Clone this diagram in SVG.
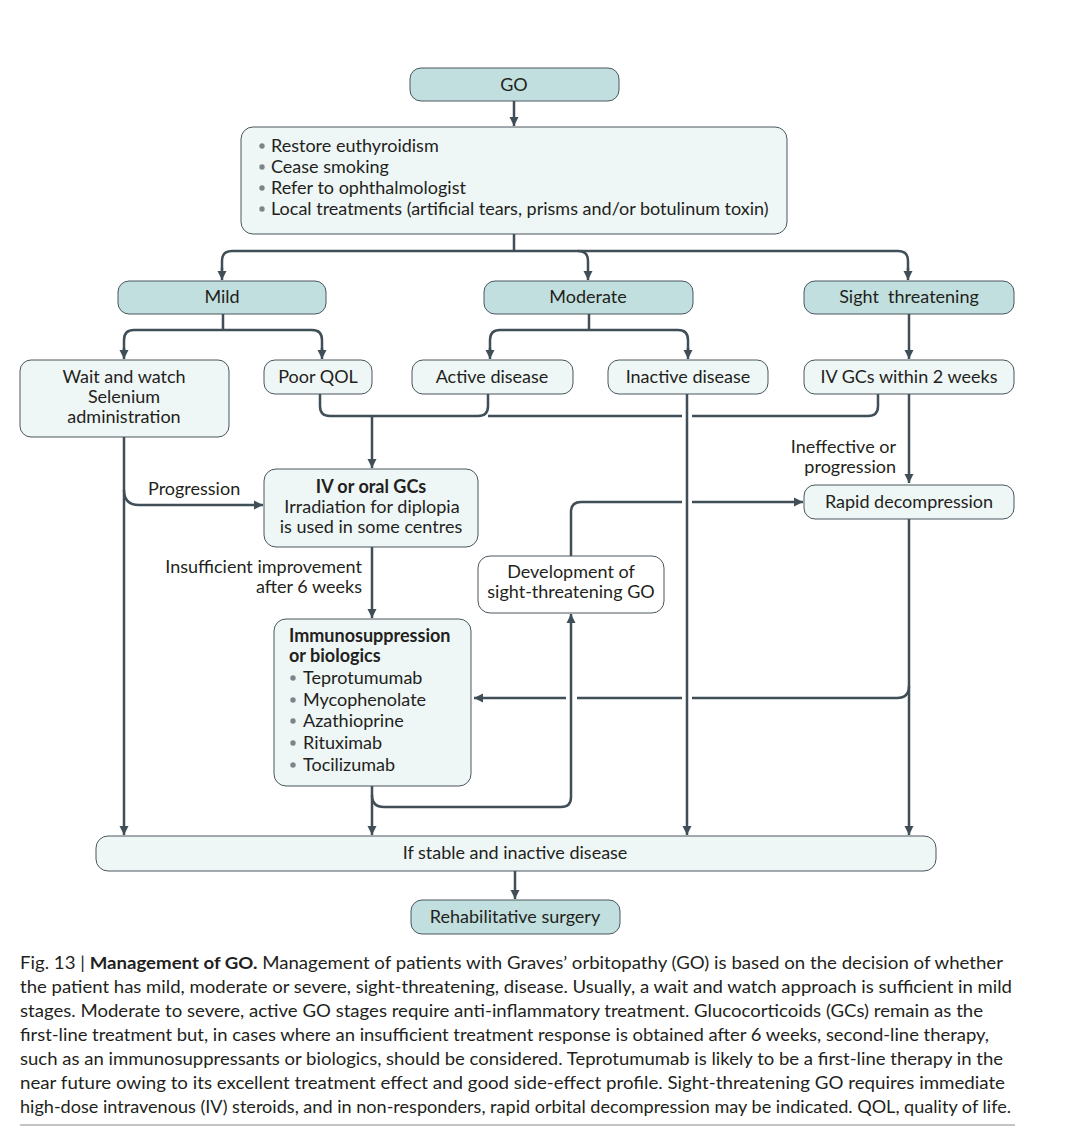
<svg xmlns="http://www.w3.org/2000/svg" width="1080" height="1136" viewBox="0 0 1080 1136">
<style>
.t{font-family:Lato,"Open Sans","Liberation Sans",sans-serif;font-size:18px;fill:#231f20}
.c{text-anchor:middle}
.r{text-anchor:end}
.b{font-weight:bold}
.teal{fill:#c1dfde;stroke:#4a565c;stroke-width:1}
.lite{fill:#eef6f6;stroke:#4a565c;stroke-width:1}
.white{fill:#ffffff;stroke:#4a565c;stroke-width:1}
.ln{fill:none;stroke:#3f4e57;stroke-width:2.5}
.ar{marker-end:url(#ah)}
.dot{fill:#7d8589}
.cap{font-family:Lato,"Open Sans","Liberation Sans",sans-serif;font-size:17px;fill:#231f20}
</style>
<defs>
<marker id="ah" markerUnits="userSpaceOnUse" markerWidth="10" markerHeight="10" refX="9" refY="5" orient="auto">
<path d="M0,0.5 L9,5 L0,9.5 z" fill="#3f4e57"/>
</marker>
</defs>
<rect width="1080" height="1136" fill="#ffffff"/>

<g id="connectors">
<path class="ln ar" d="M514,101 V126"/>
<path class="ln" d="M514,234 V251"/>
<path class="ln" d="M222,270 V261 Q222,251 232,251 H898 Q908,251 908,261 V270"/>
<path class="ln ar" d="M222,268 V280"/>
<path class="ln ar" d="M908,268 V280"/>
<path class="ln ar" d="M578,251 Q588,251 588,261 V280"/>
<path class="ln" d="M223,314 V330"/>
<path class="ln" d="M124,350 V340 Q124,330 134,330 H312 Q322,330 322,340 V350"/>
<path class="ln ar" d="M124,348 V359"/>
<path class="ln ar" d="M322,348 V359"/>
<path class="ln" d="M589,314 V330"/>
<path class="ln" d="M490,350 V340 Q490,330 500,330 H678 Q688,330 688,340 V350"/>
<path class="ln ar" d="M490,348 V359"/>
<path class="ln ar" d="M688,348 V359"/>
<path class="ln ar" d="M909,314 V359"/>
<path class="ln" d="M320,394 V406 Q320,416 330,416 H478 Q488,416 488,406 V394"/>
<path class="ln" d="M878,394 V406 Q878,416 868,416 H692 M682,416 H488"/>
<path class="ln ar" d="M372,416 V468"/>
<path class="ln ar" d="M124,437 V835"/>
<path class="ln ar" d="M124,490 Q124,505 139,505 H263"/>
<path class="ln ar" d="M372,547 V618"/>
<path class="ln ar" d="M372,786 V835"/>
<path class="ln ar" d="M372,795 Q372,807 384,807 H561 Q571,807 571,797 V614"/>
<path class="ln ar" d="M571,556 V512 Q571,502 581,502 H682 M692,502 H803"/>
<path class="ln ar" d="M687,394 V835"/>
<path class="ln ar" d="M909,394 V483"/>
<path class="ln ar" d="M909,519 V835"/>
<path class="ln ar" d="M909,686 Q909,698 897,698 H692 M682,698 H577 M566,698 H474"/>
<path class="ln ar" d="M515,871 V899"/>
</g>

<g id="node-go">
<rect class="teal" x="410" y="68" width="209" height="33" rx="11"/>
<text class="t c" x="514" y="91">GO</text>
</g>

<g id="node-general">
<rect class="lite" x="241" y="127" width="546" height="107" rx="12"/>
<circle class="dot" cx="262" cy="146" r="2.7"/>
<circle class="dot" cx="262" cy="167" r="2.7"/>
<circle class="dot" cx="262" cy="188" r="2.7"/>
<circle class="dot" cx="262" cy="209" r="2.7"/>
<text class="t" x="271" y="152">Restore euthyroidism</text>
<text class="t" x="271" y="173">Cease smoking</text>
<text class="t" x="271" y="194">Refer to ophthalmologist</text>
<text class="t" x="271" y="215">Local treatments (artificial tears, prisms and/or botulinum toxin)</text>
</g>

<g id="node-mild">
<rect class="teal" x="118" y="281" width="208" height="33" rx="11"/>
<text class="t c" x="222" y="303">Mild</text>
</g>
<g id="node-moderate">
<rect class="teal" x="484" y="281" width="209" height="33" rx="11"/>
<text class="t c" x="588" y="303">Moderate</text>
</g>
<g id="node-sight">
<rect class="teal" x="804" y="281" width="210" height="33" rx="11"/>
<text class="t c" x="909" y="303">Sight&#160; threatening</text>
</g>

<g id="node-wait">
<rect class="lite" x="20" y="360" width="209" height="77" rx="11"/>
<text class="t c" x="124" y="383">Wait and watch</text>
<text class="t c" x="124" y="403">Selenium</text>
<text class="t c" x="124" y="423">administration</text>
</g>
<g id="node-poorqol">
<rect class="lite" x="264" y="360" width="108" height="34" rx="11"/>
<text class="t c" x="318" y="383">Poor QOL</text>
</g>
<g id="node-active">
<rect class="lite" x="412" y="360" width="161" height="34" rx="11"/>
<text class="t c" x="492" y="383">Active disease</text>
</g>
<g id="node-inactive">
<rect class="lite" x="608" y="360" width="160" height="34" rx="11"/>
<text class="t c" x="688" y="383">Inactive disease</text>
</g>
<g id="node-ivgc2w">
<rect class="lite" x="804" y="360" width="210" height="34" rx="11"/>
<text class="t c" x="909" y="383">IV GCs within 2 weeks</text>
</g>

<g id="label-progression">
<text class="t" x="148" y="495">Progression</text>
</g>
<g id="label-ineffective">
<text class="t r" x="896" y="453">Ineffective or</text>
<text class="t r" x="896" y="473">progression</text>
</g>
<g id="label-insufficient">
<text class="t r" x="362" y="573">Insufficient improvement</text>
<text class="t r" x="362" y="593">after 6 weeks</text>
</g>

<g id="node-ivoral">
<rect class="lite" x="264" y="469" width="214" height="78" rx="12"/>
<text class="t c b" x="371" y="493">IV or oral GCs</text>
<text class="t c" x="372" y="513">Irradiation for diplopia</text>
<text class="t c" x="371" y="533">is used in some centres</text>
</g>

<g id="node-rapid">
<rect class="lite" x="804" y="485" width="210" height="34" rx="11"/>
<text class="t c" x="909" y="508">Rapid decompression</text>
</g>

<g id="node-development">
<rect class="white" x="478" y="556" width="186" height="57" rx="12"/>
<text class="t c" x="571" y="578">Development of</text>
<text class="t c" x="571" y="598">sight-threatening GO</text>
</g>

<g id="node-immuno">
<rect class="lite" x="274" y="619" width="197" height="167" rx="12"/>
<text class="t b" x="289" y="642">Immunosuppression</text>
<text class="t b" x="289" y="662">or biologics</text>
<circle class="dot" cx="293" cy="678" r="2.7"/>
<circle class="dot" cx="293" cy="700" r="2.7"/>
<circle class="dot" cx="293" cy="721" r="2.7"/>
<circle class="dot" cx="293" cy="743" r="2.7"/>
<circle class="dot" cx="293" cy="765" r="2.7"/>
<text class="t" x="303" y="684">Teprotumumab</text>
<text class="t" x="303" y="706">Mycophenolate</text>
<text class="t" x="303" y="727">Azathioprine</text>
<text class="t" x="303" y="749">Rituximab</text>
<text class="t" x="303" y="771">Tocilizumab</text>
</g>

<g id="node-stable">
<rect class="lite" x="96" y="836" width="840" height="35" rx="12"/>
<text class="t c" x="515" y="859">If stable and inactive disease</text>
</g>

<g id="node-rehab">
<rect class="teal" x="411" y="900" width="209" height="34" rx="11"/>
<text class="t c" x="515" y="923">Rehabilitative surgery</text>
</g>

<g id="caption">
<text class="cap" x="20" y="969" textLength="983" lengthAdjust="spacingAndGlyphs">Fig. 13 | <tspan font-weight="bold">Management of GO.</tspan> Management of patients with Graves’ orbitopathy (GO) is based on the decision of whether</text>
<text class="cap" x="20" y="993" textLength="992" lengthAdjust="spacingAndGlyphs">the patient has mild, moderate or severe, sight-threatening, disease. Usually, a wait and watch approach is sufficient in mild</text>
<text class="cap" x="20" y="1017" textLength="963" lengthAdjust="spacingAndGlyphs">stages. Moderate to severe, active GO stages require anti-inflammatory treatment. Glucocorticoids (GCs) remain as the</text>
<text class="cap" x="20" y="1041" textLength="969" lengthAdjust="spacingAndGlyphs">first-line treatment but, in cases where an insufficient treatment response is obtained after 6 weeks, second-line therapy,</text>
<text class="cap" x="20" y="1065" textLength="983" lengthAdjust="spacingAndGlyphs">such as an immunosuppressants or biologics, should be considered. Teprotumumab is likely to be a first-line therapy in the</text>
<text class="cap" x="20" y="1089" textLength="985" lengthAdjust="spacingAndGlyphs">near future owing to its excellent treatment effect and good side-effect profile. Sight-threatening GO requires immediate</text>
<text class="cap" x="20" y="1113" textLength="991" lengthAdjust="spacingAndGlyphs">high-dose intravenous (IV) steroids, and in non-responders, rapid orbital decompression may be indicated. QOL, quality of life.</text>
<line x1="20" y1="1125" x2="1015" y2="1125" stroke="#8a8a8a" stroke-width="1.2"/>
</g>
</svg>
